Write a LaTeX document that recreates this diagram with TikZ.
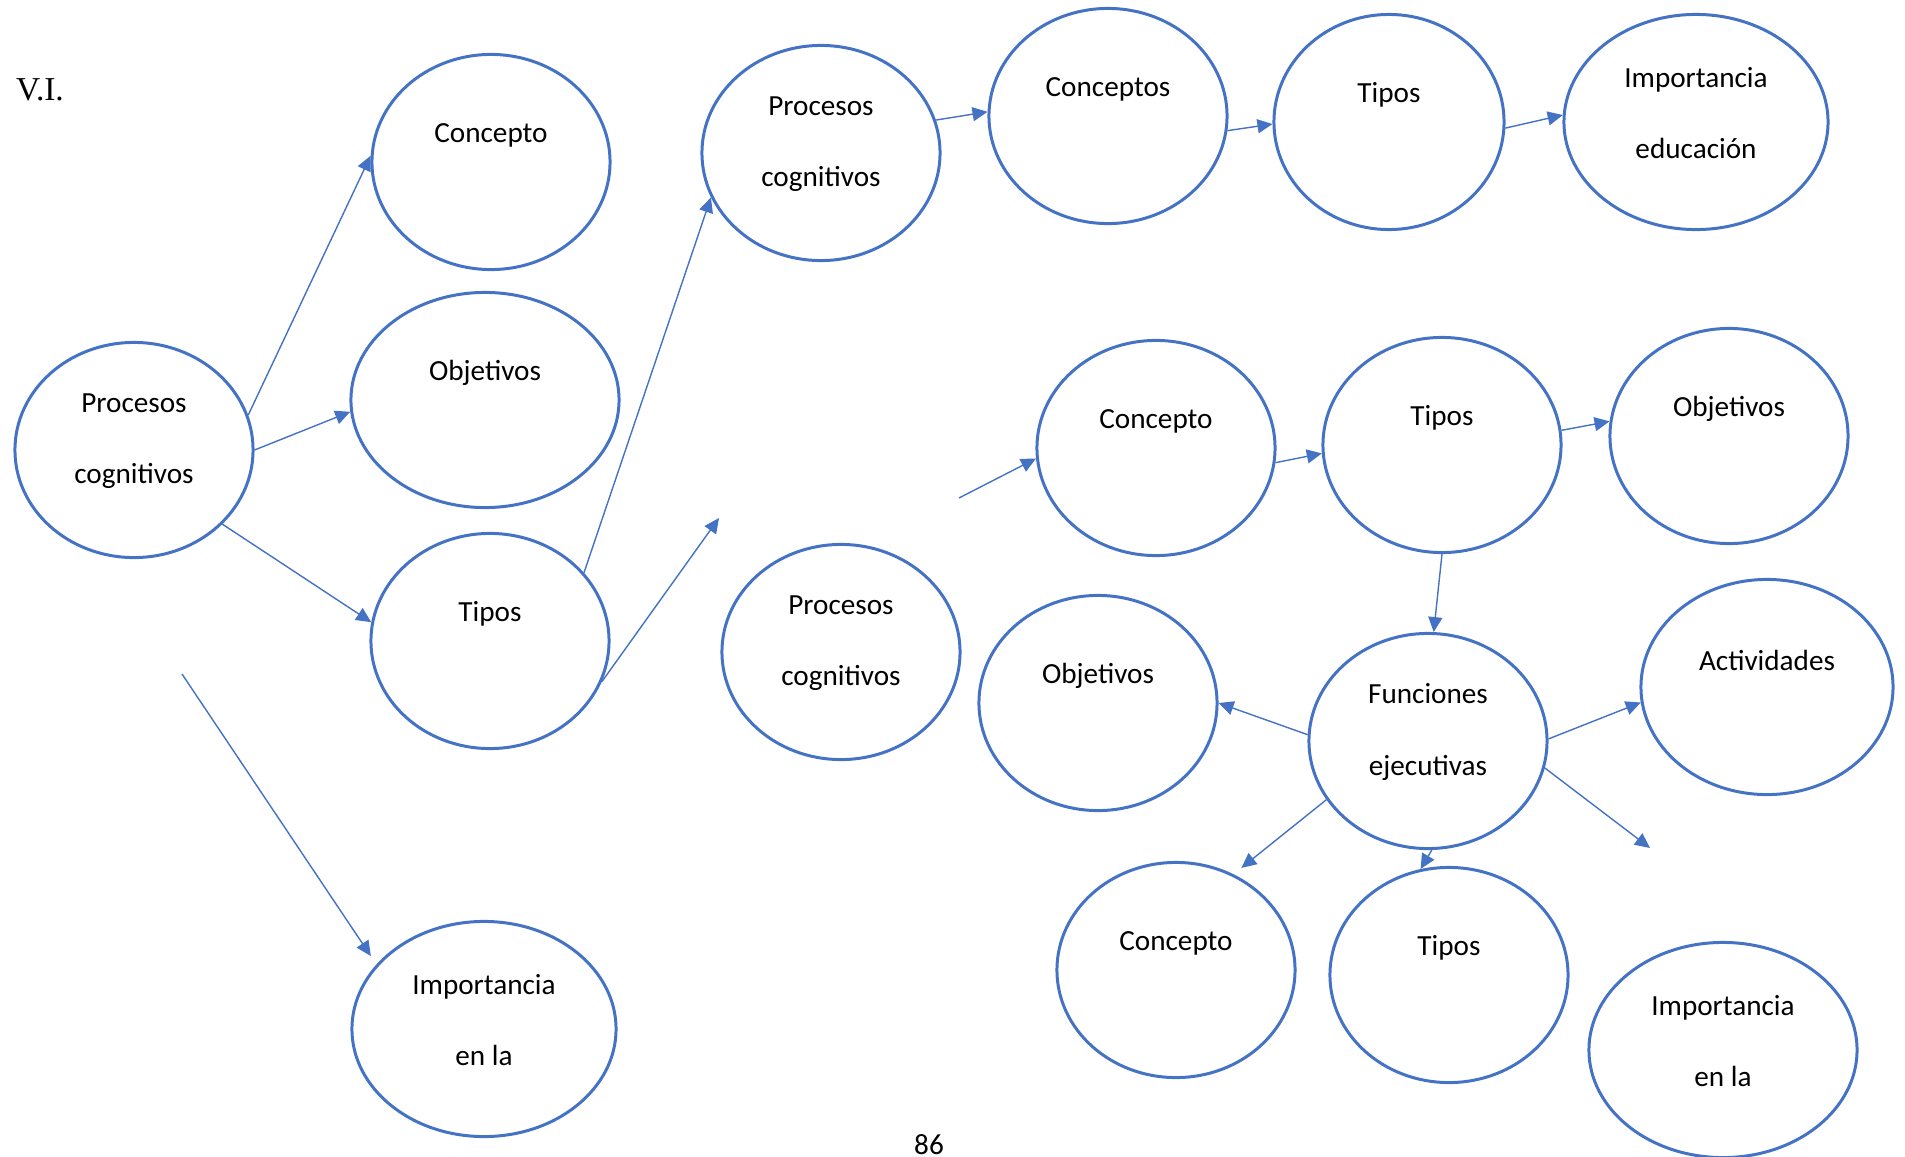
\documentclass[tikz,border=0pt]{standalone}
\usepackage{fontspec}
\setmainfont{Carlito}
\newfontfamily\timesfont{Liberation Serif}
\usetikzlibrary{arrows.meta}
\usetikzlibrary{shapes.geometric}
\definecolor{ofblue}{HTML}{4472C4}

\begin{document}
\begin{tikzpicture}[x=0.01cm,y=-0.01cm,
    bub/.style={ellipse,draw=ofblue,line width=0.85pt,minimum width=2.38cm,minimum height=2.15cm,inner sep=0pt},
    lbl/.style={font=\fontsize{8.3}{20.3}\selectfont,align=center},
    one/.style={label={[lbl,yshift=0.27cm]center:{#1}}},
    two/.style={label={[lbl,yshift=0.09cm]center:{#1}}},
    arr/.style={draw=ofblue,line width=0.4pt,-{Triangle[length=0.15cm,width=0.14cm]}}]
                \useasboundingbox (0,0) rectangle (1905,1157);
                \node[font=\timesfont\fontsize{9.5}{11}\selectfont] (vi) at (40,90) {V.I.};
                \node[lbl,inner sep=0pt] (pnum) at (929,1145) {86};
                % left branch
                \node[bub,two={Procesos\\cognitivos}] (pc1) at (134,450) {};
                \node[bub,one=Concepto] (con1) at (491,162) {};
                \node[bub,one=Objetivos,minimum width=2.68cm] (obj1) at (485,400) {};
                \node[bub,one=Tipos] (tip1) at (490,641) {};
                \node[bub,two={Importancia\\en la},minimum width=2.64cm] (imp1) at (484,1029) {};
                % top row
                \node[bub,two={Procesos\\cognitivos}] (pc2) at (821,153) {};
                \node[bub,one=Conceptos] (con2) at (1108,116) {};
                \node[bub,one=Tipos,minimum width=2.30cm] (tip2) at (1389,122) {};
                \node[bub,two={Importancia\\educación},minimum width=2.64cm] (imp2) at (1696,122) {};
                % middle row
                \node[bub,one=Concepto] (con3) at (1156,448) {};
                \node[bub,one=Tipos] (tip3) at (1442,445) {};
                \node[bub,one=Objetivos] (obj3) at (1729,436) {};
                \node[bub,two={Procesos\\cognitivos}] (pc3) at (841,652) {};
                % funciones ejecutivas
                \node[bub,one=Objetivos] (obj2) at (1098,703) {};
                \node[bub,two={Funciones\\ejecutivas}] (fun) at (1428,741) {};
                \node[bub,one=Actividades,minimum width=2.52cm] (act) at (1767,687) {};
                \node[bub,one=Concepto] (con4) at (1176,970) {};
                \node[bub,one=Tipos] (tip4) at (1449,975) {};
                \node[bub,two={Importancia\\en la},minimum width=2.68cm] (imp3) at (1723,1050) {};
                \coordinate (s4) at (182,674);
                \coordinate (e6) at (719,518);
                \coordinate (s10) at (959,498);
                \coordinate (e16) at (1650,848);
                \draw[arr] (pc1.17) to (con1.177);
                \draw[arr] (pc1.0) to (obj1.185);
                \draw[arr] (pc1.-40) to (tip1.171);
                \draw[arr,shorten >=0.1cm] (s4) to (imp1.149);
                \draw[arr] (tip1.36) to (pc2.202);
                \draw[arr] (tip1.-20) to (e6);
                \draw[arr] (pc2.16) to (con2.178);
                \draw[arr] (con2.-7) to (tip2.181);
                \draw[arr] (tip2.-3) to (imp2.177);
                \draw[arr] (s10) to (con3.185);
                \draw[arr] (con3.-7) to (tip3.184);
                \draw[arr] (tip3.7) to (obj3.173);
                \draw[arr] (tip3.-90) to (fun.87);
                \draw[arr] (fun.177) to (obj2.0);
                \draw[arr] (fun.1) to (act.187);
                \draw[arr] (fun.-13) to (e16);
                \draw[arr,shorten >=0.1cm] (fun.210) to (con4.59);
                \draw[arr] (fun.-88) to (tip4.105);
            \end{tikzpicture}
\end{document}
